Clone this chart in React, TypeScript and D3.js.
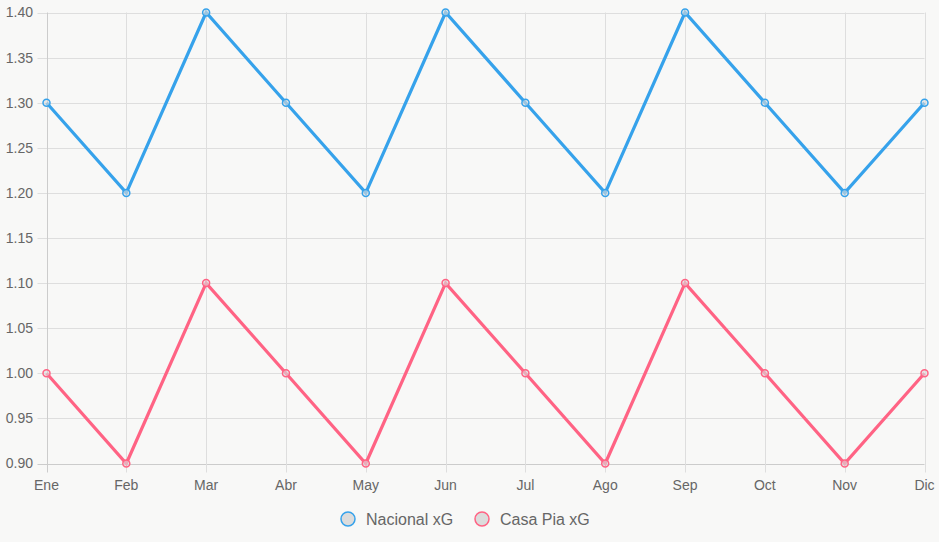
import React, { useEffect, useRef } from "react";
import * as d3 from "d3";

const months = ["Ene", "Feb", "Mar", "Abr", "May", "Jun", "Jul", "Ago", "Sep", "Oct", "Nov", "Dic"];
const nacional = [1.3, 1.2, 1.4, 1.3, 1.2, 1.4, 1.3, 1.2, 1.4, 1.3, 1.2, 1.3];
const casaPia = [1.0, 0.9, 1.1, 1.0, 0.9, 1.1, 1.0, 0.9, 1.1, 1.0, 0.9, 1.0];
const yTicks = [0.9, 0.95, 1.0, 1.05, 1.1, 1.15, 1.2, 1.25, 1.3, 1.35, 1.4];

const series = [
  { name: "Nacional xG", values: nacional, color: "#36A2EB" },
  { name: "Casa Pia xG", values: casaPia, color: "#FF6384" },
];

const App = () => {
  const ref = useRef<SVGSVGElement>(null);

  useEffect(() => {
    document.body.style.margin = "0";
    const width = 939;
    const height = 542;
    const margin = { top: 12.5, left: 46.5, bottom: 79, right: 15 };
    const font = "'Liberation Sans', Arial, sans-serif";

    const svg = d3.select(ref.current);
    svg.selectAll("*").remove();

    svg.append("rect").attr("width", width).attr("height", height).attr("fill", "#f8f8f7");

    const x = d3
      .scalePoint()
      .domain(months)
      .range([margin.left, width - margin.right + 0.5]);

    const y = d3
      .scaleLinear()
      .domain([0.9, 1.4])
      .range([height - margin.bottom + 0.5, margin.top]);

    // horizontal grid
    const gy = svg.append("g");
    gy.selectAll("line")
      .data(yTicks)
      .enter()
      .append("line")
      .attr("x1", margin.left - 9)
      .attr("x2", x("Dic")!)
      .attr("y1", (d) => Math.round(y(d)) + 0.5)
      .attr("y2", (d) => Math.round(y(d)) + 0.5)
      .attr("stroke", (d) => (d === 0.9 ? "#cccccc" : "#dedede"))
      .attr("stroke-width", 1);
    gy.selectAll("text")
      .data(yTicks)
      .enter()
      .append("text")
      .attr("x", 33)
      .attr("y", (d) => y(d))
      .attr("dy", "0.35em")
      .attr("text-anchor", "end")
      .attr("font-family", font)
      .attr("font-size", 14)
      .attr("fill", "#666")
      .text((d) => d.toFixed(2));

    // vertical grid
    const gx = svg.append("g");
    gx.selectAll("line")
      .data(months)
      .enter()
      .append("line")
      .attr("x1", (d) => Math.round(x(d)!) + 0.5)
      .attr("x2", (d) => Math.round(x(d)!) + 0.5)
      .attr("y1", margin.top)
      .attr("y2", y(0.9) + 9)
      .attr("stroke", (d, i) => (i === 0 ? "#cccccc" : "#dedede"))
      .attr("stroke-width", 1);
    gx.selectAll("text")
      .data(months)
      .enter()
      .append("text")
      .attr("x", (d) => x(d)!)
      .attr("y", 490)
      .attr("text-anchor", "middle")
      .attr("font-family", font)
      .attr("font-size", 14)
      .attr("fill", "#666")
      .text((d) => d);

    const line = d3
      .line<number>()
      .x((d, i) => x(months[i])!)
      .y((d) => y(d));

    series.forEach((s) => {
      svg
        .append("path")
        .datum(s.values)
        .attr("fill", "none")
        .attr("stroke", s.color)
        .attr("stroke-width", 3.2)
        .attr("stroke-linejoin", "miter")
        .attr("d", line);
      svg
        .append("g")
        .selectAll("circle")
        .data(s.values)
        .enter()
        .append("circle")
        .attr("cx", (d, i) => x(months[i])!)
        .attr("cy", (d) => y(d))
        .attr("r", 3.5)
        .attr("fill", "rgba(220,220,220,0.6)")
        .attr("stroke", s.color)
        .attr("stroke-width", 1.5);
    });

    // legend
    const legendX = [348, 482];
    const legend = svg
      .append("g")
      .selectAll("g")
      .data(series)
      .enter()
      .append("g")
      .attr("transform", (d, i) => `translate(${legendX[i]}, 519)`);
    legend
      .append("circle")
      .attr("r", 7)
      .attr("fill", "#dcdcdc")
      .attr("stroke", (d) => d.color)
      .attr("stroke-width", 1.5);
    legend
      .append("text")
      .attr("x", 18)
      .attr("dy", "0.35em")
      .attr("font-family", font)
      .attr("font-size", 16)
      .attr("fill", "#666")
      .text((d) => d.name);
  }, []);

  return <svg ref={ref} width={939} height={542} style={{ display: "block" }}></svg>;
};

export default App;
